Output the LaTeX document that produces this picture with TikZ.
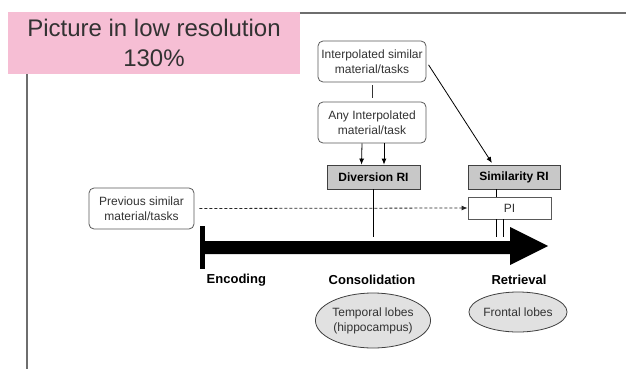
\documentclass[tikz,border=0pt]{standalone}
\usepackage{fontspec}
\setmainfont{Liberation Sans}
\usetikzlibrary{arrows.meta,shapes.geometric}
\definecolor{pinkbg}{RGB}{246,190,212}
\definecolor{framegray}{RGB}{110,110,110}
\definecolor{boxgray}{RGB}{200,200,200}
\definecolor{lobegray}{RGB}{225,225,225}
\definecolor{textgray}{RGB}{50,50,50}
\tikzset{
  roundbox/.style={draw=black!65, line width=0.8pt, rounded corners=5pt, align=center, text=textgray,
    font=\fontsize{12}{15}\selectfont, inner sep=0pt},
  riskbox/.style={draw=black!75, line width=0.8pt, fill=boxgray, font=\bfseries\fontsize{12}{14}\selectfont,
    minimum width=93pt, minimum height=24pt, inner sep=0pt},
  lobe/.style={ellipse, draw=black!75, line width=0.8pt, fill=lobegray, align=center, text=textgray,
    font=\fontsize{12}{15}\selectfont, inner sep=0pt},
  phase/.style={font=\bfseries\fontsize{13}{15}\selectfont},
}
\begin{document}
\begin{tikzpicture}[x=1pt, y=-1pt, line width=0.8pt]
\useasboundingbox (0,0) rectangle (626,369);
% frame
\draw[framegray, line width=1.2pt] (300,13) -- (626,13);
\draw[framegray, line width=1.2pt] (27,74) -- (27,369);
\node[fill=pinkbg, minimum width=292pt, minimum height=62pt, inner sep=0pt, align=center,
  text=textgray, font=\fontsize{24}{30}\selectfont] (note) at (154,43) {Picture in low resolution\\130\%};
% boxes
\node[roundbox, minimum width=108pt, minimum height=41pt] (isim) at (372,61.5) {Interpolated similar\\material/tasks};
\node[roundbox, minimum width=108pt, minimum height=41pt] (anyint) at (372,122.5) {Any Interpolated\\material/task};
\node[riskbox] (div) at (373.5,177) {Diversion RI};
\node[riskbox, minimum width=92pt] (sim) at (514,177) {Similarity RI};
\node[draw=black!65, minimum width=83pt, minimum height=22pt, inner sep=0pt, text=textgray,
  font=\fontsize{12}{14}\selectfont] (pi) at (509.5,208) {PI};
\node[roundbox, minimum width=105pt, minimum height=41pt] (prev) at (141.5,208.5) {Previous similar\\material/tasks};
% time line
\fill (200,226) rectangle (205,269);
\fill (205,241) -- (510,241) -- (510,227) -- (548,246) -- (510,265) -- (510,254) -- (205,254) -- cycle;
\coordinate (shafttop) at (373,237);
\node[phase, anchor=west] (enc) at (203,280) {Encoding};
\node[phase] (cons) at (372,280) {Consolidation};
\node[phase] (retr) at (519,280) {Retrieval};
\node[lobe, minimum width=112pt, minimum height=55pt] (temp) at (373,320.5) {Temporal lobes\\(hippocampus)};
\node[lobe, minimum width=97pt, minimum height=40pt] (front) at (518,312) {Frontal lobes};
% connectors
\draw[black!80, shorten <=3pt, shorten >=4pt] (isim) -- (anyint);
\draw[-{Latex[length=6pt,width=5pt]}] ([xshift=-10pt]anyint.south) -- ([xshift=-12pt]div.north);
\draw[-{Latex[length=6pt,width=5pt]}] ([xshift=12pt]anyint.south) -- ([xshift=10.5pt]div.north);
\draw[-{Latex[length=6pt,width=5pt]}, shorten <=4pt, shorten >=2pt] (isim.east) -- ([xshift=-21pt]sim.north);
\draw[black!85, dash pattern=on 3pt off 2pt, -{Latex[length=6pt,width=5pt]}, shorten <=5pt] (prev.east) -- (pi.west);
\draw (div.south) -- (div.south |- shafttop);
\draw ([xshift=-13.5pt]pi.north) -- ([xshift=-13.5pt]pi.north |- sim.south);
\draw ([xshift=-13.5pt]pi.south) -- ([xshift=-13.5pt]pi.south |- shafttop);
\draw ([xshift=-6.5pt]pi.south) -- ([xshift=-6.5pt]pi.south |- shafttop);
\end{tikzpicture}
\end{document}
